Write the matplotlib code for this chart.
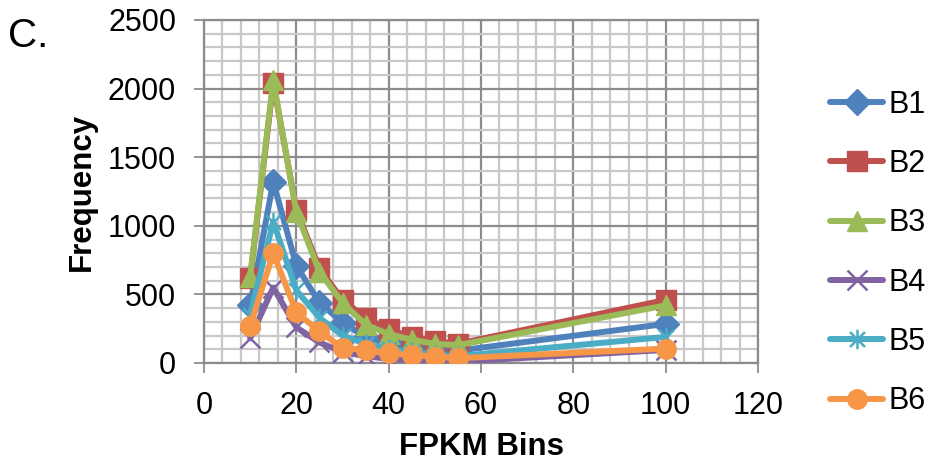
import matplotlib
matplotlib.use("Agg")
import matplotlib.pyplot as plt
from matplotlib.path import Path
from matplotlib.ticker import MultipleLocator

plt.rcParams['font.family'] = ['Liberation Sans', 'DejaVu Sans']

x = [10, 15, 20, 25, 30, 35, 40, 45, 50, 55, 100]
B1 = [420, 1320, 710, 440, 295, 190, 150, 120, 100, 90, 285]
B2 = [620, 2040, 1115, 690, 460, 330, 245, 190, 160, 140, 460]
B3 = [630, 2060, 1100, 665, 440, 280, 210, 170, 140, 130, 420]
B4 = [180, 550, 260, 150, 80, 50, 30, 20, 15, 10, 95]
B5 = [350, 1030, 530, 330, 200, 140, 100, 80, 60, 50, 190]
B6 = [270, 800, 370, 230, 110, 95, 70, 58, 46, 35, 105]
names = ['B1', 'B2', 'B3', 'B4', 'B5', 'B6']
series = [B1, B2, B3, B4, B5, B6]
colors = ['#4F81BD', '#C0504D', '#9BBB59', '#8064A2', '#4BACC6', '#F79646']

star = Path([(-1, -1), (1, 1), (-1, 1), (1, -1), (0, -1.3), (0, 1.3)],
            [Path.MOVETO, Path.LINETO, Path.MOVETO, Path.LINETO, Path.MOVETO, Path.LINETO])
markers = ['D', 's', '^', 'x', star, 'o']
msizes = [13, 14, 15, 14, 14, 14]
mew = [1, 1, 1, 1.8, 1.8, 1]

fig = plt.figure(figsize=(9.3, 4.67), dpi=100)
ax = fig.add_axes([204/930, 1-363/467, (758-204)/930, (363-20)/467])

for i, (n, s) in enumerate(zip(names, series)):
    ax.plot(x, s, color=colors[i], lw=4.3, marker=markers[i], markersize=msizes[i],
            markerfacecolor=colors[i], markeredgecolor=colors[i], markeredgewidth=mew[i],
            label=n, zorder=3+i, solid_capstyle='round', solid_joinstyle='round')

ax.set_xlim(0, 120)
ax.set_ylim(0, 2500)
ax.xaxis.set_major_locator(MultipleLocator(20))
ax.xaxis.set_minor_locator(MultipleLocator(4))
ax.yaxis.set_major_locator(MultipleLocator(500))
ax.yaxis.set_minor_locator(MultipleLocator(100))
ax.grid(which='minor', color='#c8c8c8', lw=1.6, zorder=0)
ax.grid(which='major', color='#8c8c8c', lw=1.6, zorder=1)
ax.set_axisbelow(True)
for sp in ax.spines.values():
    sp.set_color('#8c8c8c')
    sp.set_linewidth(1.6)
ax.tick_params(which='major', length=7, width=1.3, color='#8c8c8c', labelsize=22, pad=13)
ax.tick_params(which='minor', length=0)

ax.set_xlabel('FPKM Bins', fontsize=22.5, fontweight='bold')
ax.set_ylabel('Frequency', fontsize=22.5, fontweight='bold')
ax.xaxis.set_label_coords(0.5, -0.2)
ax.yaxis.set_label_coords(-0.193, 0.5)

fig.text(8/930, 1-47/467, 'C.', fontsize=29, ha='left', va='baseline')

leg = fig.legend(loc='center left', bbox_to_anchor=(830/930, 1-253/467), frameon=False,
                 fontsize=22, handlelength=1.74, handletextpad=0.16, labelspacing=0.96,
                 borderpad=0, borderaxespad=0)

fig.savefig('out.png', dpi=100)
